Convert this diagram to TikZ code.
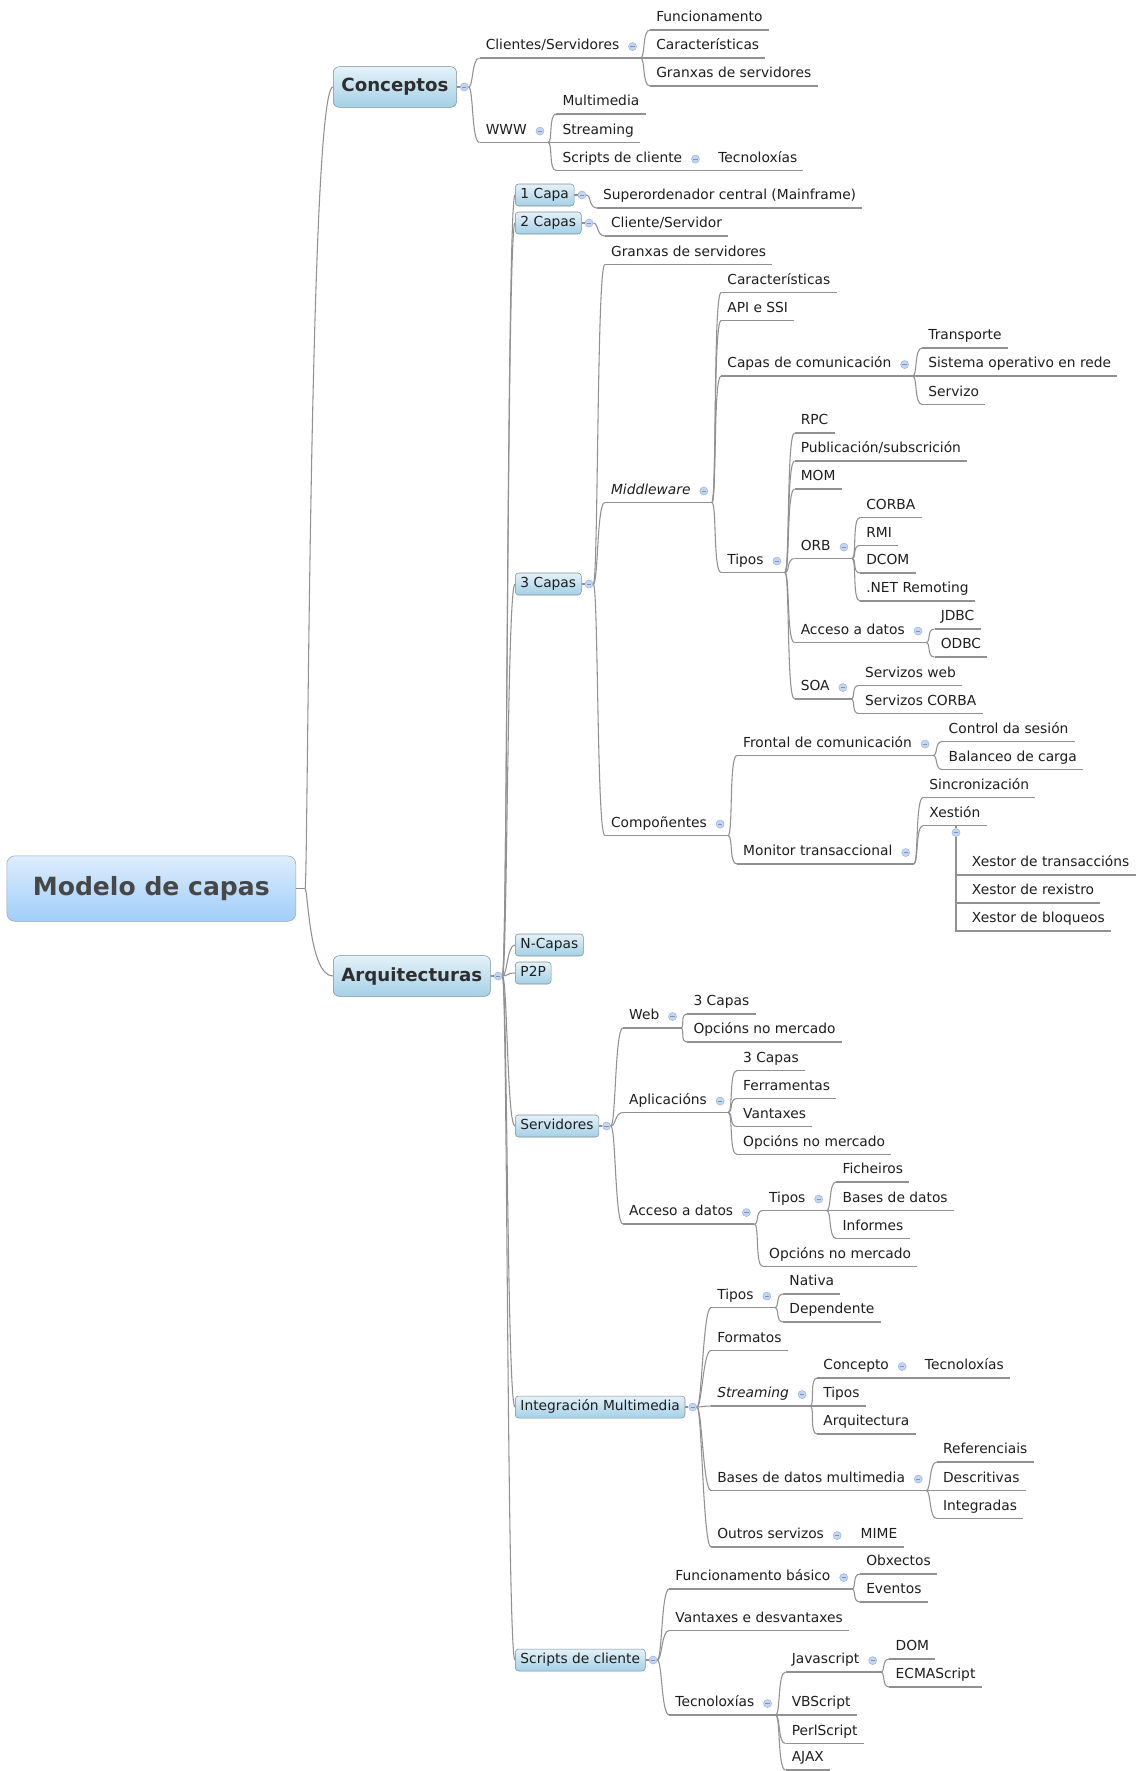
\documentclass[tikz,border=0pt]{standalone}
\usepackage{fontspec}
\setmainfont{DejaVu Sans}
\usetikzlibrary{positioning}
\definecolor{linegray}{HTML}{919191}
\definecolor{txtgray}{HTML}{1E1E1E}
\definecolor{boxline}{HTML}{7E9099}
\definecolor{boxtop}{HTML}{E4F2F9}
\definecolor{boxbot}{HTML}{A4D0E6}
\definecolor{roottop}{HTML}{DDEDFC}
\definecolor{rootbot}{HTML}{A0CEFA}
\definecolor{rootline}{HTML}{9AA6B2}
\definecolor{icofill}{HTML}{C3D5F0}
\definecolor{icoline}{HTML}{9DB5DE}
\definecolor{icominus}{HTML}{7893C8}

\begin{document}
\begin{tikzpicture}[x=0.75pt,y=-0.75pt,
  con/.style={draw=linegray,line width=0.8pt},
  br/.style={to path={.. controls +(5,0) and +(-8,0) .. (\tikztotarget)}},
  brr/.style={to path={.. controls +(3,0) and +(-24,0) .. (\tikztotarget)}},
  rootbox/.style={draw=rootline,rounded corners=6pt,top color=roottop,bottom color=rootbot,text=black!72,
    font=\fontsize{18.8pt}{22pt}\selectfont\bfseries,minimum width=216.75pt,minimum height=49pt},
  topic/.style={anchor=west,draw=boxline,rounded corners=4.5pt,top color=boxtop,bottom color=boxbot,text=black!82,
    font=\fontsize{13.65pt}{16pt}\selectfont\bfseries,inner xsep=6.1pt,minimum height=30.5pt},
  capbox/.style={anchor=west,draw=boxline,rounded corners=2.5pt,top color=boxtop,bottom color=boxbot,text=txtgray,
    font=\fontsize{10.35pt}{12pt}\selectfont,inner xsep=3.9pt,inner ysep=0pt,text height=7.8pt,text depth=2.2pt,minimum height=16.5pt},
  sub/.style={anchor=south west,inner xsep=4.5pt,inner ysep=0pt,text height=7.8pt,text depth=6pt,text=txtgray,
    font=\fontsize{10.35pt}{12pt}\selectfont,
    append after command={(\tikzlastnode.south west) edge[con] (\tikzlastnode.south east)}},
  ico/.style={circle,draw=icoline,fill=icofill,line width=0.4pt,minimum size=6pt,inner sep=0pt,
    path picture={\draw[icominus,line width=0.6pt] ([xshift=-1.6pt]path picture bounding box.center) -- ([xshift=1.6pt]path picture bounding box.center);}}]
\path[use as bounding box,fill=white] (0,0) rectangle (1137,1771);

% main topics
\node[rootbox] (root) at (151.3,888.6) {Modelo de capas};
\node[topic] (con) at (333,87) {Conceptos};
\node[topic] (arq) at (333,976) {Arquitecturas};

% Conceptos
\node[sub] (cs) at (479.5,58) {Clientes/Servidores};
\node[sub] (www) at (479.5,142.5) {WWW};
\node[sub] (fun) at (650,30) {Funcionamento};
\node[sub] (car) at (650,58) {Características};
\node[sub] (gra) at (650,86) {Granxas de servidores};
\node[sub] (mul) at (556.3,114) {Multimedia};
\node[sub] (str) at (556.3,142.5) {Streaming};
\node[sub] (scr) at (556.3,170.5) {Scripts de cliente};
\node[sub] (tec) at (712.1,170.5) {Tecnoloxías};

% Arquitecturas
\node[capbox] (c1) at (515,195) {1 Capa};
\node[capbox] (c2) at (515,223) {2 Capas};
\node[capbox] (c3) at (515,584) {3 Capas};
\node[capbox] (cn) at (515,945) {N-Capas};
\node[capbox] (p2p) at (515,973) {P2P};
\node[capbox] (ser) at (515,1126) {Servidores};
\node[capbox] (im) at (515,1407) {Integración Multimedia};
\node[capbox] (sc) at (515,1660) {Scripts de cliente};

\node[sub] (sup) at (596.9,208) {Superordenador central (Mainframe)};
\node[sub] (cli) at (604.8,236) {Cliente/Servidor};
\node[sub] (gs) at (604.8,264.5) {Granxas de servidores};
\node[sub] (mw) at (604.8,502.5) {\textit{Middleware}};
\node[sub] (cmp) at (604.8,835.5) {Compoñentes};

\node[sub] (car2) at (721.1,292.5) {Características};
\node[sub] (api) at (721.1,320.5) {API e SSI};
\node[sub] (cc) at (721.1,376) {Capas de comunicación};
\node[sub] (tip) at (721.1,572.5) {Tipos};
\node[sub] (tra) at (922.1,348) {Transporte};
\node[sub] (sor) at (922.1,376) {Sistema operativo en rede};
\node[sub] (svz) at (922.1,404.5) {Servizo};
\node[sub] (rpc) at (794.5,433) {RPC};
\node[sub] (pub) at (794.5,461) {Publicación/subscrición};
\node[sub] (mom) at (794.5,489) {MOM};
\node[sub] (orb) at (794.5,558.5) {ORB};
\node[sub] (acd) at (794.5,642.5) {Acceso a datos};
\node[sub] (soa) at (794.5,699) {SOA};
\node[sub] (cor) at (860,517.5) {CORBA};
\node[sub] (rmi) at (860,545.5) {RMI};
\node[sub] (dcom) at (860,573) {DCOM};
\node[sub] (net) at (860,601) {.NET Remoting};
\node[sub] (jdbc) at (934.5,629) {JDBC};
\node[sub] (odbc) at (934.5,657) {ODBC};
\node[sub] (sw) at (858.9,685.5) {Servizos web};
\node[sub] (scor) at (858.9,713.5) {Servizos CORBA};
\node[sub] (fro) at (736.9,755.5) {Frontal de comunicación};
\node[sub] (mon) at (736.9,864) {Monitor transaccional};
\node[sub] (cds) at (942.4,741.5) {Control da sesión};
\node[sub] (bal) at (942.4,769.5) {Balanceo de carga};
\node[sub] (sin) at (923.2,797.5) {Sincronización};
\node[sub] (xes) at (923.2,825.5) {Xestión};
\node[sub] (xt) at (965.7,875) {Xestor de transaccións};
\node[sub] (xr) at (965.7,903) {Xestor de rexistro};
\node[sub] (xb) at (965.7,931) {Xestor de bloqueos};

\node[sub] (web) at (622.9,1028) {Web};
\node[sub] (apl) at (622.9,1112.5) {Aplicacións};
\node[sub] (ad) at (622.9,1224) {Acceso a datos};
\node[sub] (w3) at (687.3,1014) {3 Capas};
\node[sub] (wop) at (687.3,1042) {Opcións no mercado};
\node[sub] (a3) at (736.9,1070.5) {3 Capas};
\node[sub] (afe) at (736.9,1098.5) {Ferramentas};
\node[sub] (ava) at (736.9,1126.5) {Vantaxes};
\node[sub] (aop) at (736.9,1154.5) {Opcións no mercado};
\node[sub] (adt) at (762.9,1210.5) {Tipos};
\node[sub] (adop) at (762.9,1266.5) {Opcións no mercado};
\node[sub] (fic) at (836.3,1182) {Ficheiros};
\node[sub] (bdd) at (836.3,1210.5) {Bases de datos};
\node[sub] (inf) at (836.3,1238.5) {Informes};

\node[sub] (it) at (711,1307.5) {Tipos};
\node[sub] (fmt) at (711,1350.5) {Formatos};
\node[sub] (stm) at (711,1406) {\textit{Streaming}};
\node[sub] (bdm) at (711,1490.5) {Bases de datos multimedia};
\node[sub] (out) at (711,1547) {Outros servizos};
\node[sub] (nat) at (783.2,1294) {Nativa};
\node[sub] (dep) at (783.2,1322) {Dependente};
\node[sub] (cpt) at (817.1,1378) {Concepto};
\node[sub] (stip) at (817.1,1406) {Tipos};
\node[sub] (arqt) at (817.1,1434) {Arquitectura};
\node[sub] (ctec) at (918.7,1378) {Tecnoloxías};
\node[sub] (ref) at (936.8,1462) {Referenciais};
\node[sub] (des) at (936.8,1490.5) {Descritivas};
\node[sub] (ing) at (936.8,1518.5) {Integradas};
\node[sub] (mime) at (854.4,1547) {MIME};

\node[sub] (fb) at (669.2,1589) {Funcionamento básico};
\node[sub] (vd) at (669.2,1630.5) {Vantaxes e desvantaxes};
\node[sub] (tcn) at (669.2,1715) {Tecnoloxías};
\node[sub] (obx) at (860,1574) {Obxectos};
\node[sub] (eve) at (860,1602) {Eventos};
\node[sub] (js) at (785.5,1672) {Javascript};
\node[sub] (vbs) at (785.5,1715) {VBScript};
\node[sub] (perl) at (785.5,1743.5) {PerlScript};
\node[sub] (ajax) at (785.5,1770) {AJAX};
\node[sub] (dom) at (889.4,1659) {DOM};
\node[sub] (ecma) at (889.4,1687) {ECMAScript};

% connectors
\draw[con] (root.east) -- ++(9,0) coordinate (root-b);
\draw[con] (root-b) to[brr] (con.west);
\draw[con] (root-b) to[brr] (arq.west);

\node[ico] (arq-i) at ([xshift=5.6pt]arq.east) {};
\draw[con] (arq.east) -- (arq-i.west);
\foreach \c in {c1,c2,c3,cn,p2p,ser,im,sc}
  \draw[con] (arq-i.east) to[br] (\c.west);

\foreach \p/\kids in {con/{cs,www},c1/{sup},c2/{cli},c3/{gs,mw,cmp},ser/{web,apl,ad},im/{it,fmt,stm,bdm,out},sc/{fb,vd,tcn}}{
  \node[ico] (\p-i) at ([xshift=5.6pt]\p.east) {};
  \draw[con] (\p.east) -- (\p-i.west);
  \foreach \c in \kids
    \draw[con] (\p-i.east) to[br] (\c.south west);
}

\foreach \p/\kids in {cs/{fun,car,gra},www/{mul,str,scr},scr/{tec},mw/{car2,api,cc,tip},cc/{tra,sor,svz},
    tip/{rpc,pub,mom,orb,acd,soa},orb/{cor,rmi,dcom,net},acd/{jdbc,odbc},soa/{sw,scor},cmp/{fro,mon},
    fro/{cds,bal},mon/{sin,xes},web/{w3,wop},apl/{a3,afe,ava,aop},ad/{adt,adop},adt/{fic,bdd,inf},
    it/{nat,dep},stm/{cpt,stip,arqt},cpt/{ctec},bdm/{ref,des,ing},out/{mime},fb/{obx,eve},
    tcn/{js,vbs,perl,ajax},js/{dom,ecma}}{
  \draw[con] (\p.south east) -- ++(15,0) coordinate (\p-b);
  \node[ico] (\p-i) at ([xshift=5.25pt,yshift=8.6pt]\p.south east) {};
  \foreach \c in \kids
    \draw[con] (\p-b) to[br] (\c.south west);
}

% Xestion hangs its children below
\node[ico] (xes-i) at (956,832.5) {};
\draw[con] (xes-i.north) -- (xes-i.north |- xes.south);
\foreach \c in {xt,xr,xb}
  \draw[con] (xes-i.south) |- (\c.south west);
\end{tikzpicture}
\end{document}
